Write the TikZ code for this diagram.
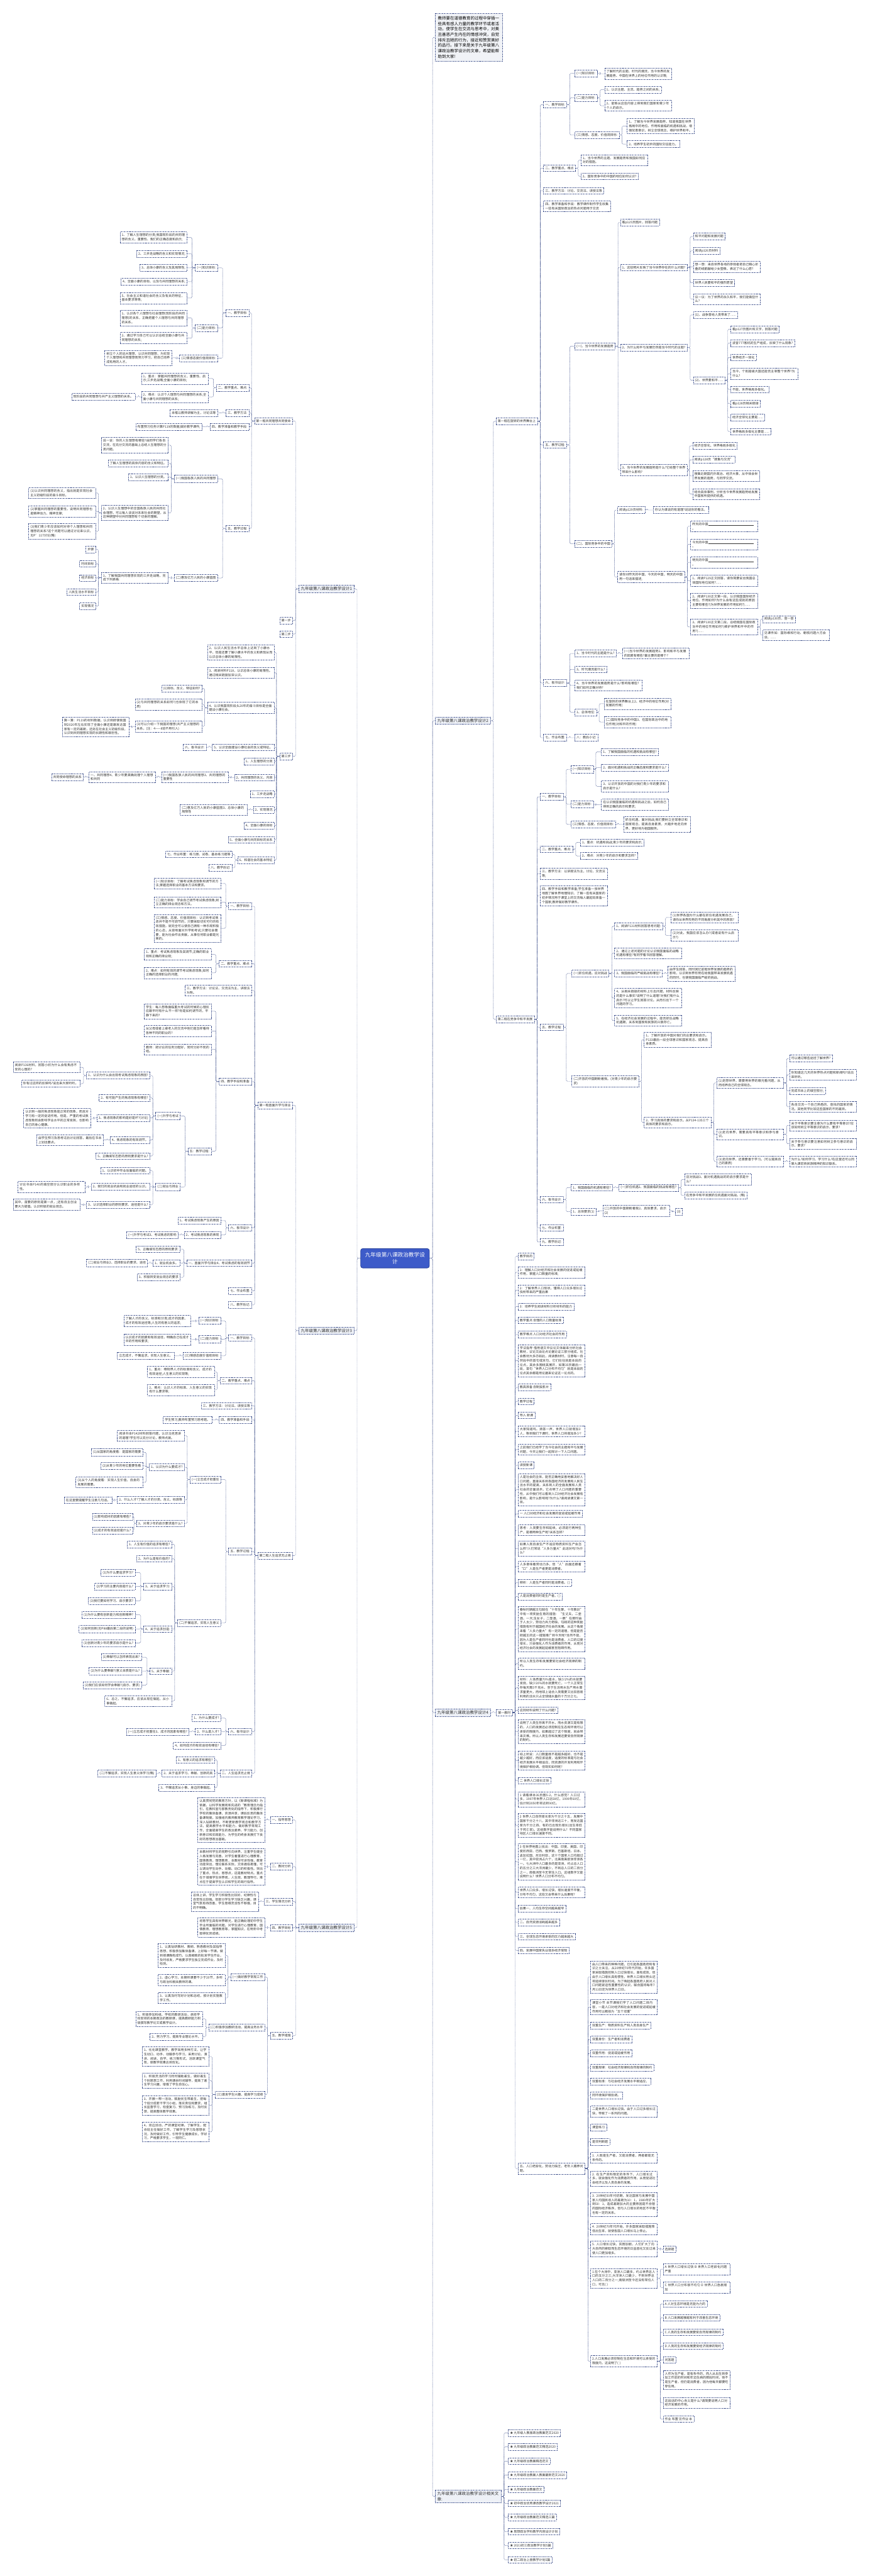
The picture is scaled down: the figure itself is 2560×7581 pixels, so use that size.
\documentclass[tikz,border=0pt]{standalone}
\usepackage{fontspec}
\setmainfont{Noto Sans CJK SC}
\XeTeXlinebreaklocale "zh"
\XeTeXlinebreakskip=0pt plus 1pt
\setlength{\parindent}{0pt}
\definecolor{linec}{HTML}{45568F}
\definecolor{textc}{HTML}{333333}
\definecolor{topicc}{HTML}{EEF1F7}
\definecolor{introc}{HTML}{F1F3F7}
\definecolor{rootc}{HTML}{3D5BC9}
\definecolor{rootd}{HTML}{2A44A0}
\tikzset{
  box/.style={draw=linec, dash pattern=on 3pt off 1.8pt, line width=1pt,
    fill=white, text=textc, font=\fontsize{9.3}{12.5}\selectfont,
    inner xsep=5pt, inner ysep=5.5pt, align=left},
  para/.style={box, text width=187pt},
  rb/.style={box, anchor=west},
  rp/.style={para, anchor=west},
  lb/.style={box, anchor=east},
  lp/.style={para, anchor=east},
  topic/.style={box, fill=topicc, font=\fontsize{12}{16}\selectfont, inner xsep=6pt, inner ysep=5pt},
  intro/.style={box, fill=introc, text=black, font=\fontsize{12}{16.1}\selectfont,
    text width=181pt, inner xsep=9pt, inner ysep=8pt, anchor=west},
  root/.style={draw=rootd, line width=1.5pt, fill=rootc, text=white,
    font=\fontsize{16}{20}\selectfont, align=center, inner xsep=13pt, inner ysep=11pt,
    rounded corners=6pt},
  link/.style={draw=linec, dash pattern=on 2.5pt off 1.6pt, line width=0.9pt, rounded corners=3pt},
}
\begin{document}
\begin{tikzpicture}[x=1pt,y=-1pt]
\fill[white] (0,0) rectangle (2560,7581);
\useasboundingbox (0,0) rectangle (2560,7581);

\node[root] (root) at (1163,3703) {九年级第八课政治教学设\\计};

% ---------------- right side
\node[intro] (intro) at (1280,110) {教师要在道德教育的过程中穿插一些具有感人力量的教学环节或者活动，使学生在交流与思考中，对美丑善恶产生内在的情感冲突，自觉排斥丑陋的行为，接近和赞赏美好的品行。接下来是关于九年级第八课政治教学设计的文章，希望能帮助到大家!};
\node[topic, anchor=west] (b2) at (1281,2121) {九年级第八课政治教学设计2};
\node[topic, anchor=west] (b4) at (1281,5040) {九年级第八课政治教学设计4};
\node[topic, anchor=west, text width=182pt] (rel) at (1281,7347) {九年级第八课政治教学设计相关文章:};

\node[rb] (b2a) at (1460,1240) {第一框在旋转的世界舞台上};
\node[rb] (b2b) at (1460,3000) {第二框在竞争中和平发展};

\node[rb] (a1) at (1600,308) {一、教学目标:};
\node[rb] (a2) at (1600,495) {二、教学重点、难点};
\node[rb] (a3) at (1600,561) {三、教学方法：讨论、交流法、讲授法等};
\node[rp] (a4) at (1600,607) {四、教学准备和手段：教学课件制作学生收集一些有关国际政治的热点问题用于交流};
\node[rb] (a5) at (1600,1309) {五、教学过程:};
\node[rb] (a6) at (1600,2010) {六、板书设计:};
\node[rb] (a7) at (1600,2171) {七、作业布置:};

\node[rb] (a11) at (1692,216) {(一)知识目标:};
\node[rb] (a12) at (1692,288) {(二)能力目标:};
\node[rb] (a13) at (1692,397) {(三)情感、态度、价值观目标:};
\node[rp] (a111) at (1780,217) {了解时代的主题、时代的潮流，当今世界的发展趋势、中国在世界上的地位作用的认识等;};
\node[rb] (a121) at (1780,264) {1、认识主题、主流、趋势之间的关系;};
\node[rp] (a122) at (1780,311) {2、能够从这些内容上得到我们国家和青少年个人的启示。};
\node[rp] (a131) at (1846,371) {1、了解当今世界发展趋势，知道我国在世界格局中的地位、作用和面临的机遇和挑战，增强忧患意识，树立全球观念，维护世界和平。};
\node[rb] (a132) at (1846,424) {2、培养学生初步的国际交往能力。};
\node[rp] (a21) at (1710,471) {1、当今世界的主题、发展趋势和我国如何应对的措施。};
\node[rb] (a22) at (1710,519) {2、国际竞争中的中国的地位如何认识?};

\node[rb] (a51) at (1692,1019) {(一)、当今世界的发展趋势};
\node[rb] (a52) at (1692,1600) {(二)、国际竞争中的中国};
\node[rb] (p1) at (1826,655) {看p125页图片，回答问题};
\node[rp] (p2) at (1826,787) {1、这些照片反映了当今世界存在的什么问题?};
\node[rp] (p3) at (1826,1023) {2、为什么和平与发展仍然是当今时代的主题?};
\node[rp] (p4) at (1826,1383) {3、当今世界的发展趋势是什么?它给整个世界带来什么影响?};
\node[rb] (p21) at (2041,696) {和平问题和发展问题};
\node[rb] (p22) at (2041,738) {阅读p126页材料};
\node[rp] (p23) at (2041,785) {想一想：来自世界各地的参观者把自己精心折叠的纸鹤献给少女塑像，表达了什么心愿?};
\node[rb] (p24) at (2041,832) {世界人民要和平的强烈愿望};
\node[rp] (p25) at (2041,880) {议一议：为了世界的永久和平，我们能做些什么?};
\node[rb] (p31) at (2041,927) {(1)、战争曾给人类带来了......};
\node[rb] (p32) at (2041,1119) {(2)、世界要和平......};
\node[rb] (p321) at (2151,969) {看p127页图片和文字，回答问题};
\node[rb] (p322) at (2151,1010) {波音777客机的生产组成，反映了什么现象?};
\node[rb] (p323) at (2151,1052) {世界经济一体化};
\node[rp] (p324) at (2151,1100) {当今，个别超级大国还能否主宰整个世界?为什么?};
\node[rb] (p325) at (2151,1146) {不能，世界格局多极化。};
\node[rb] (p326) at (2151,1188) {看p128页相关链接};
\node[rb] (p327) at (2151,1229) {经济全球化主要是......};
\node[rb] (p328) at (2151,1270) {世界格局多极化主要是......};
\node[rb] (p41) at (2039,1312) {经济全球化、世界格局多极化};
\node[rb] (p42) at (2039,1353) {阅读p128页“搜集与交流”};
\node[rp] (p43) at (2039,1401) {搜集近期国内外政治、经济大事，从中体会世界发展的趋势，与同学交流。};
\node[rp] (p44) at (2039,1454) {结合具体事例，分析当今世界发展趋势给发展中国家所提供的机遇。};
\node[rb] (q1) at (1818,1501) {阅读p129页材料:};
\node[rp] (q2) at (1818,1698) {请你对昨天的中国，今天的中国，明天的中国用一句话来描述;};
\node[rb] (q11) at (1923,1501) {你认为谁说的有道理?说说你的看法。};
\node[rp] (q21) at (2033,1549) {昨天的中国\rule{135pt}{0.4pt}\\。};
\node[rp] (q22) at (2033,1602) {今天的中国\rule{135pt}{0.4pt}\\。};
\node[rp] (q23) at (2033,1655) {明天的中国\rule{135pt}{0.4pt}\\。};
\node[rp] (q24) at (2033,1709) {1、阅读P129正文回答，请你简要说出我国总体国际地位如何?......};
\node[rp] (q25) at (2033,1768) {2、阅读P130正文第一段，认识我国国际经济地位、作用如何?为什么会有这些成就的原因主要有哪些?(为世界发展的作用如何?)......};
\node[rp] (q26) at (2033,1845) {3、阅读P130正文第二段，总结我国在国际政治中的地位作用如何?(维护世界和平中的作用?)......};
\node[rb] (q261) at (2245,1822) {阅读p130页，查一查};
\node[rp] (q262) at (2245,1869) {见课件如：国际维和行动、朝核问题六方会谈、......};

\node[rb] (s1) at (1692,1923) {1、当今时代的主题是什么?};
\node[rb] (s2) at (1692,1970) {3、时代潮流是什么?};
\node[rp] (s3) at (1692,2017) {4、当今世界的发展趋势是什么?影响有哪些?我们如何正确对待?};
\node[rb] (s4) at (1692,2096) {1、总体地位:};
\node[rp] (s11) at (1832,1923) {(一)当今世界的发展趋势2、影响和平与发展的因素有哪些?最主要的是哪个?};
\node[rp] (s41) at (1778,2071) {在旋转的世界舞台上2、经济中的地位作用(对发展的作用)};
\node[rp] (s42) at (1778,2125) {(二)国际竞争中的中国3、在国际政治中的地位作用(对和平的作用)};
\node[rb] (a71) at (1692,2171) {八：教后小记:};

\node[rb] (t1) at (1590,2345) {一、教学目标:};
\node[rb] (t2) at (1590,2499) {二、教学重点、难点:};
\node[rp] (t3) at (1590,2571) {三、教学方法：以讲授法为主，讨论、交流法等;};
\node[rp] (t4) at (1590,2636) {四、教学手段和教学准备;学生准备一张世界地图了解世界地理知识、了解一些有关国家的初步情况用于课堂上的交流每人最起码准备一个国家;教师做好教学课件。};
\node[rb] (t5) at (1590,3023) {五、教学过程:};
\node[rb] (t6) at (1590,3530) {六、板书设计:};
\node[rb] (t7) at (1590,3613) {七、作业布置:};
\node[rb] (t9) at (1590,3655) {九、教学后记:};
\node[rb] (t11) at (1681,2264) {(一)知识目标:};
\node[rb] (t12) at (1681,2367) {(二)能力目标:};
\node[rb] (t13) at (1681,2426) {(三)情感、态度、价值观目标:};
\node[rb] (t111) at (1770,2213) {1、了解我国面临的机遇和挑战有哪些?};
\node[rp] (t112) at (1770,2259) {2、面对机遇和挑战的正确态度和要求是什么?};
\node[rp] (t113) at (1770,2314) {3、认识开放的中国的对我们青少年的要求和启示是什么?};
\node[rp] (t121) at (1770,2368) {在认识我国面临的机遇和挑战之后，如何自己得到正确的启示和要求;};
\node[rp] (t131) at (1836,2426) {抓住机遇，面对挑战;我们要树立全球意识和国家观念，提高自身素质，大踏步地走向世界，更好地为祖国服务。};
\node[rb] (t21) at (1708,2479) {1、重点：机遇和挑战;青少年的要求和启示;};
\node[rb] (t22) at (1708,2519) {2、难点：对青少年的启示和要求怎样?};

\node[rb] (u1) at (1683,2865) {(一)抓住机遇，应对挑战};
\node[rp] (u2) at (1683,3182) {(二)开放的中国期盼着我。(对青少年的启示要求)};
\node[rb] (u11) at (1809,2726) {1、阅读P131材料回答思考问题:};
\node[rp] (u12) at (1809,2805) {2、通过上述问题的讨论认识我国面临的战略机遇有哪些?有同学看书回答理解。};
\node[rb] (u13) at (1809,2865) {3、我国面临的严峻挑战有哪些?};
\node[rp] (u14) at (1809,2937) {4、从相关链接的材料上引出问题，材料反映的是什么事实?说明了什么道理?对我们有什么启示?可以让学生回答讨论。从而引出下一个问题的学习。};
\node[rp] (u15) at (1809,3003) {5、在经济社会发展的过程中，能否抓住战略机遇期，关系到国家和民族的兴衰存亡。};
\node[rp] (u111) at (1975,2700) {(1)世界各国为什么都在抓住机遇发展自己，请你从世界形势的不同角度分析其中的原因?};
\node[rp] (u112) at (1975,2753) {(2)对此，我国应该怎么办?(或者说有什么启示?)};
\node[rp] (u131) at (1966,2865) {由学生回答，同时回忆前框世界发展的趋势的影响，认识到世界形势在给我国带来发展机遇的同时，也使我国面临严峻的挑战。};
\node[rp] (u21) at (1896,3060) {1、了解开放的中国对我们的总要求和启示。P133最后一段全球意识和国家观念、提高自身素质。};
\node[rp] (u22) at (1896,3303) {2、学习具体的要求和启示。从P134-135三个具体的要求和启示。};
\node[rp] (v1) at (2110,3187) {(1)走想世界，需要用世界的眼光看问题，从而培养自己的全球观念。};
\node[rp] (v2) at (2110,3338) {(2)走向世界，需要具有平等意识和参与意识。};
\node[rp] (v3) at (2110,3418) {(3)走向世界，还需要善于学习。(可以提高自己的素质)};
\node[rb] (v11) at (2324,3115) {可以通过哪些途径了解世界?};
\node[rp] (v12) at (2324,3163) {你知道这几天的世界热点问题和新闻吗?说出来听听。};
\node[rb] (v13) at (2324,3210) {完成书本上的填空部分;};
\node[rp] (v14) at (2324,3257) {各自交流一个自己熟悉的、查找的国家的情况。其他同学比较这些国家的不同差异。};
\node[rp] (v21) at (2324,3312) {关于平等意识要注意为什么要有平等意识?应该如何树立平等意识的启示、要求?};
\node[rp] (v22) at (2324,3366) {关于参与意识要注意如何树立参与意识的启示、要求?};
\node[rp] (v31) at (2324,3418) {为什么?如何学习、学习什么?在这里还可以同第九课宏扬民族精神的知识联系。};

\node[rb] (w1) at (1681,3495) {1、我国面临的机遇有哪些?};
\node[rb] (w2) at (1681,3566) {1、总体要求(1)};
\node[rb] (w11) at (1822,3495) {(一)抓住机遇2、我国面临的挑战有哪些?};
\node[rp] (w111) at (2015,3471) {应对挑战3、面对机遇挑战的的启示要求是什么?};
\node[rb] (w112) at (2015,3518) {在竞争中和平发展抓住机遇面对挑战。(略)};
\node[rp] (w21) at (1774,3563) {(二)开放的中国期盼着我2、具体要求、启示(2)};
\node[rb] (w211) at (1987,3566) {(3)};

\node[rb] (b4a) at (1461,5040) {第一教时};
\node[rb] (n1) at (1525,3697) {教学目的};
\node[rp] (n2) at (1525,3744) {1：理解人口对经济和社会发展的促进或延缓作用，掌握人口数量的标准;};
\node[rp] (n3) at (1525,3797) {2：了解世界人口现状，懂得人口众多增长过快所带来的严重后果};
\node[rb] (n4) at (1525,3845) {3：培养学生阅读材料分析材料的能力};
\node[rb] (n5) at (1525,3885) {教学重点 合理的人口数量标准};
\node[rb] (n6) at (1525,3927) {教学难点 人口对经济社会的作用};
\node[rp] (n7) at (1525,4004) {学法指导 借用语文中议论文体裁来分析社会教材，议论文由论点论据论证三部分组成，社会教材大多亦如此，阅读教材时，注意每一自然段中的首句或末句，它们往往就是本段的论点，其余多围绕其展开，如第35页最后一段，首句“世界人口分布不均匀”就是本段的论点其余都是用论据来论证这一论点的。};
\node[rb] (n8) at (1525,4083) {教具准备 自制投影片};
\node[rb] (n9) at (1525,4124) {教学过程};
\node[rb] (n10) at (1525,4165) {导入 新课};
\node[rp] (n11) at (1525,4212) {大家知道吗，滴答一声，世界人口就增加3人，等到我们下课时，世界人口将增加多少?};
\node[rp] (n12) at (1525,4266) {之前我们已经学了当今社会的主题和平与发展问题，今天让我们一起探讨一下人口问题。};
\node[rb] (n13) at (1525,4312) {讲授新课};
\node[rp] (n14) at (1525,4384) {人是社会的主体，能否正确地妥善地解决好人口问题，直接关系到各国经济的发展和人民生活水平的提高，关系到人的全面发展和人类社会的全面进步。它点明了人口问题的重要性，从中我们可以看到人口对经济社会发展有影响，是什么影响呢?为什么?请阅读课文第一目。};
\node[rb] (n15) at (1525,4455) {一 人口对经济和社会发展的促进或延缓作用};
\node[rp] (n16) at (1525,4503) {思考：人类要生存和延续，必须进行两种生产，是哪两种生产呢?关系怎样?};
\node[rp] (n17) at (1525,4557) {如果人类自身生产不适应物质资料生产会怎么样?人们常说“人多力量大”此话对吗?为什么?};
\node[rp] (n18) at (1525,4610) {人多意味着劳动力多，但“人”后面还跟着“口”人是生产者更是消费者。};
\node[rb] (n19) at (1525,4658) {辨析：人是生产者同时是消费者。( )};
\node[rb] (n20) at (1525,4698) {人是消费者同时是生产者。( )};
\node[rp] (n21) at (1525,4794) {春秋时期越王勾践在“十年生聚，十年教训”中有一项奖励生育的措施：“生丈夫，二壶酒，一犬;生女子，二壶酒，一豚”在那时由于人太少，劳动力兵力奇缺，勾践的这种奖励措施有利于越国经济社会的发展。从这个角度来看“人多力量大”有一定的道理，但是能否把越王的这一措施推广到今天呢?当然不能，因为人是生产者同时也是消费者，人口的过度增长，只会强化人作为消费者的作用，从而对经济社会的发展起延缓甚至阻碍作用。};
\node[rp] (n22) at (1525,4896) {所以人类生存和发展要受社会经济规律的制约。};
\node[rp] (n23) at (1525,4967) {材料：人体质量70\%是水，缺少2\%的水就要发烧，缺少20\%的水就要死亡，一个人正常生存每天需5千克水，至于生活用水生产用水需求量更大，而地球上适合人类需要又比较容易利用的淡水只占全球储水量的十万分之七。};
\node[rb] (n24) at (1525,5033) {这则材料说明了什么问题?};
\node[rp] (n25) at (1525,5096) {说明了人类生存离不开水，而水资源又是有限的，人口的发展还必须控制在生态和环境可以承受的限度内，如果超过了这个限度，就会带来灾难。所以人类生存和发展还要受自然规律的制约。};
\node[rp] (n26) at (1525,5181) {综上所说：人口数量既不是越多越好，也不是越少越好，而应该适度，适度的标准是与社会经济发展水平相适应，同资源的开发利用和环境保护相协调。但现实如何呢?};
\node[rb] (n27) at (1525,5240) {二 世界人口增长过快};
\node[rp] (n28) at (1525,5295) {1 请看课本36页图5-2，什么感觉? 人口过多，1997年世界人口达58亿，1999年60亿，估计到2050年将达到90亿。};
\node[rp] (n29) at (1525,5372) {2 世界人口自然增长率为千分之十五，发展中国家千分之十八，其中非洲达三十，而发达国家为千分之四，有的已出现负增长(出生率低于死亡率)。这组数字能说明什么? 不同国家地区人口增长速度不同。};
\node[rp] (n30) at (1525,5479) {3 在世界地图上找出：中国、印度、美国、印度尼西亚、巴西、俄罗斯、巴基斯坦、日本、孟加拉国、尼日利亚，这十个国家人口均超过一亿，其中亚洲占六个，北美南美欧洲非洲各一。七大洲中人口最多的是亚洲，约占总人口的五分之三大洋洲最少，不到总人口的二百分之一，南极洲至今无常住人口。这组数字又能说明什么? 世界人口分布不均匀。};
\node[rp] (n31) at (1525,5569) {世界人口众多，增长过快，增长速度不平衡，分布不均匀，这些又会带来什么后果呢?};
\node[rb] (n32) at (1525,5617) {后果一、人均生存空间越来越窄};
\node[rb] (n33) at (1525,5657) {二、自然资源消耗越来越多};
\node[rb] (n34) at (1525,5699) {三、全球生态环境承受的压力越来越大};
\node[rb] (n35) at (1525,5740) {四、发展中国家失业增多经济受阻};
\node[rp] (n36) at (1525,6382) {五、人口老龄化，劳动力缺乏，老年人赡养问题。};

\node[rp] (o1) at (1738,5818) {由人口带来的种种问题，已引起各国政府和有识之士关注，从20世纪70年代开始，许多国家采取措施控制人口过快增长，虽有成效，但由于人口增长具有惯性，世界人口增长势头还将延续很长时间。为了唤起各国政府人民对人口问题紧迫性重要性的认识，联合国将每年7月11日定为世界人口日。};
\node[rp] (o2) at (1738,5907) {课堂小节 本节课我们学了人口问题二目内容，一是人口对经济和社会发展的促进或延缓作用可以概括为“五个双重”};
\node[rb] (o3) at (1738,5961) {双重生产：物质资料生产和人类自身生产};
\node[rb] (o4) at (1738,6002) {双重身份：生产者和消费者};
\node[rb] (o5) at (1738,6043) {双重作用：促进或延缓作用};
\node[rb] (o6) at (1738,6085) {双重规律：社会经济规律和自然规律的制约};
\node[rb] (o7) at (1738,6126) {双重标准：与社会经济发展水平相适应，};
\node[rb] (o8) at (1738,6167) {同环境保护相协调。};
\node[rp] (o9) at (1738,6214) {二是世界人口增长过快。由于人口过多增长过快，导致了一系列的问题。};
\node[rb] (o10) at (1738,6261) {课堂练习};
\node[rb] (o11) at (1738,6303) {是非判断题};
\node[rp] (o12) at (1738,6350) {1. 人既是生产者，又是消费者，两者都是无条件的。};
\node[rp] (o13) at (1738,6411) {2. 在生产资料限定的条件下，人口增长过多，就会强化作为消费者的作用，从而促进社会经济以及人类自身的发展。};
\node[rp] (o14) at (1738,6487) {3. 20世纪50年代初期，发达国家与发展中国家人均国民收入的差距为10：1，1989年扩大到50：1，造成差距加大的主要原因是不合理的国际经济秩序，但与人口增长的地区不平衡也有一定的关系。};
\node[rp] (o15) at (1738,6560) {4. 20世纪70年代开始，许多国家采取措施降低出生率，就使各国人口增长马上停止。};
\node[rp] (o16) at (1738,6618) {5. 人口增长过快，贫困加剧，人们扩大了向大自然的索取而生态环境的日益恶化又反过来使人口更加增多。};
\node[rp] (o17) at (1738,6705) {1.在个大洲中，亚洲人口最多，约占世界总人口的五分之三;大洋洲人口最少，不到世界总人口的二百分之一;南极洲至今还没有常住人口，可见( )};
\node[rp] (o18) at (1738,6949) {2.人口发展必须控制在生态和环境可以承受的限度内，这说明了( )};
\node[rb] (o161) at (1952,6619) {选择题};
\node[rp] (o171) at (1952,6678) {A 世界人口增长过快 B 世界人口老龄化问题严重};
\node[rp] (o172) at (1952,6732) {C 世界人口分布很不均匀 D 世界人口急剧增加};
\node[rb] (o181) at (1952,6780) {A 人对生态环境是无能为力的};
\node[rb] (o182) at (1952,6821) {B 人口发展越慢越有利于改善生态环境};
\node[rb] (o183) at (1952,6863) {C 人类的生存和发展要受自然规律的制约};
\node[rb] (o184) at (1952,6904) {D 人类的生存和发展要受经济规律的制约};
\node[rb] (o185) at (1952,6945) {问答题};
\node[rp] (o186) at (1952,7004) {人作为生产者，是有条件的，而人从出生到参加工作前的时间和年迈生病的那段时间，他不是生产者，但仍是消费者，因为他每天都要吃穿住用。};
\node[rp] (o187) at (1952,7071) {这段话的中心含义是什么?请简要说明人口对经济发展的作用。};
\node[rb] (o188) at (1952,7119) {作业 布置 见作业 本};

\node[rb] (r1) at (1496,7160) {★ 九年级人教版政治教案范文2020};
\node[rb] (r2) at (1496,7201) {★ 九年级政治教案范文精选2020};
\node[rb] (r3) at (1496,7243) {★ 九年级政治教案精选范文};
\node[rb] (r4) at (1496,7284) {★ 九年级政治教案人教案最新范文2020};
\node[rb] (r5) at (1496,7326) {★ 九年级政治教案范文};
\node[rb] (r6) at (1496,7367) {★ 初中政治优秀课改教学设计2021};
\node[rb] (r7) at (1496,7408) {★ 九年级政治教案范文精选三篇};
\node[rb] (r8) at (1496,7450) {★ 思想政治学科教学内容设计计划};
\node[rb] (r9) at (1496,7491) {★ 2021初三政治教学计划5篇};
\node[rb] (r10) at (1496,7533) {★ 初二政治上册教学计划5篇};

% ---------------- left side
\node[topic, anchor=east] (b1) at (1043,1733) {九年级第八课政治教学设计1};
\node[topic, anchor=east] (b3) at (1043,3916) {九年级第八课政治教学设计3};
\node[topic, anchor=east] (b5) at (1043,5673) {九年级第八课政治教学设计5};

\node[lb] (b1a) at (862,1239) {第一框共同理想共同使命};
\node[lb] (b1b) at (862,1826) {第一步};
\node[lb] (b1c) at (862,1866) {第二步};
\node[lb] (b1d) at (862,2226) {第三步};
\node[lb] (c1) at (734,921) {一、教学目标:};
\node[lb] (c2) at (734,1141) {二、教学重点、难点:};
\node[lb] (c3) at (734,1215) {三、教学方法:};
\node[lb] (c4) at (734,1256) {四、教学准备和教学手段:};
\node[lb] (c5) at (734,1555) {五、教学过程:};
\node[lb] (c11) at (641,788) {(一)知识目标:};
\node[lb] (c12) at (641,965) {(二)能力目标:};
\node[lb] (c13) at (641,1054) {(三)情感态度价值观目标:};
\node[lp] (c111) at (551,699) {1、了解人生理想的分类;我国现阶段的共同理想的含义、重要性、我们的正确态度和启示;};
\node[lb] (c112) at (551,747) {2、三步走战略的含义和实现情况;};
\node[lb] (c113) at (551,788) {3、总体小康的含义及其局限性;};
\node[lb] (c114) at (551,829) {4、全面小康的目标、以及与共同理想的关系;};
\node[lp] (c115) at (551,877) {5、社会主义和谐社会的含义及有关的特征，基本要求等等;};
\node[lp] (c121) at (551,936) {1、认识各个人理想与社会理想(现阶段的共同理想)的关系，正确把握个人理想与共同理想的关系。};
\node[lp] (c122) at (551,995) {2、通过学习自己可以认识总结全面小康与共同理想的关系;};
\node[lp] (c131) at (506,1053) {树立个人的远大理想，认识共同理想，为实现个人理想和共同理想而努力学习，把自己培养成有用的人才。};
\node[lp] (c21) at (614,1114) {1、重点：掌握共同理想的含义、重要性、启示;三步走战略;全面小康的目标;};
\node[lp] (c22) at (614,1168) {2、难点：认识个人理想与共同理想的关系;全面小康与共同理想的关系;};
\node[lb] (c221) at (398,1168) {现阶段的共同理想与共产主义理想的关系。};
\node[lb] (c31) at (641,1215) {本框以教师讲解为主，讨论法等};
\node[lb] (c41) at (595,1256) {布置预习任务计算P119的数据;做好教学课件;};
\node[lb] (c51) at (641,1409) {(一)我国各族人民的共同理想};
\node[lb] (c52) at (641,1701) {(二)惠及亿万人民的小康蓝图};
\node[lp] (c511) at (496,1310) {说一说：你的人生理想有哪些?由同学们各自交流，在充分交流的基础上总结人生理想的分类问题。};
\node[lb] (c512) at (496,1364) {了解人生理想的具体内容的含义和特征。};
\node[lb] (c513) at (496,1404) {1、认识人生理想的分类。};
\node[lp] (c514) at (496,1509) {2、认识人生理想中的全国各族人民的共同社会理想，可以每人谈谈对未来社会的期望，从这种期望中对共同理想有个切身的理解。};
\node[lp] (c5141) at (282,1451) {(1)认识共同理想的含义，指出就是实现社会主义初级阶段的奋斗目标。};
\node[lp] (c5142) at (282,1505) {(2)掌握共同理想的重要性，说明共同理想也是精神动力、精神支撑;};
\node[lp] (c5143) at (282,1564) {(3)我们青少年应该如何对待个人理想和共同理想的关系?这个问题可以通过讨论来认识，见P'117讨论(略)};
\node[lp] (c521) at (496,1700) {1、了解我国共同理想实现的三步走战略，完成下列表格:};
\node[lb] (c5211) at (282,1617) {步骤};
\node[lb] (c5212) at (282,1659) {时间目标};
\node[lb] (c5213) at (282,1701) {经济目标};
\node[lb] (c5214) at (282,1742) {人民生活水平目标};
\node[lb] (c5215) at (282,1784) {实现情况};

\node[lp] (d1) at (808,1920) {2、认识人民生活水平总体上达到了小康水平，但是还要了解小康水平的含义和表现从而认识总体小康的局限性。};
\node[lp] (d2) at (808,1980) {3、阅读材料P118，认识总体小康的局限性。通过相关链接加深认识。};
\node[lp] (d3) at (808,2083) {4、认识我国现阶段头20年的奋斗目标是全面建设小康社会。};
\node[lb] (d4) at (808,2199) {5、认识全面建设小康社会的含义或特征。};
\node[lb] (d5) at (808,2241) {1、人生理想的分类};
\node[lb] (d6) at (808,2288) {2、共同理想的含义、内容};
\node[lb] (d7) at (808,2337) {1、三步走战略};
\node[lb] (d8) at (808,2383) {2、实现情况};
\node[lb] (d9) at (808,2430) {4、全面小康的目标};
\node[lb] (d10) at (808,2471) {5、全面小康与共同目标的关系};
\node[lb] (d11) at (808,2531) {6、和谐社会的基本特征};
\node[lb] (d31) at (595,2026) {(1)目标、含义、特征如何?};
\node[lp] (d32) at (595,2073) {(2)与共同理想的关系如何?(也体现了它的本质)};
\node[lp] (d33) at (595,2138) {(3)可以介绍一下我国的理想(共产主义理想的关系。(注：4——8班不用引入)};
\node[lp] (d331) at (381,2139) {算一算：P119的材料数据，认识到即使我国到2020年左右实现了全面小康还是跟发达国家有一定的差距，还处在社会主义初级阶段，认识到共同理想实现的长期性和艰巨性。};
\node[lb] (d41) at (608,2199) {六、板书设计:};
\node[lp] (d61) at (673,2287) {(一)我国各族人民的共同理想3、共同理想的重要性};
\node[lp] (d611) at (459,2287) {一、共同理想4、青少年要真确处理个人理想和共同};
\node[lb] (d6111) at (246,2287) {共同使命理想的关系};
\node[lp] (d81) at (728,2383) {(二)惠及亿万人民的小康蓝图3、总体小康的局限性};
\node[lb] (d111) at (684,2514) {七、作业布置：练习册、试卷、基本练习题等};
\node[lb] (d112) at (684,2554) {八、教学后记:};

\node[lb] (e1) at (862,3253) {第一框直面升学与择业};
\node[lb] (e2) at (862,4578) {第二框人生追求无止境};
\node[lb] (f1) at (742,2667) {一、教学目标:};
\node[lb] (f2) at (742,2836) {二、教学重点、难点:};
\node[lp] (f3) at (742,2915) {三、教学方法：讨论法、交流法为主，讲授法为附。};
\node[lb] (f4) at (742,3183) {四、教学手段和准备:};
\node[lb] (f6) at (742,3613) {六、板书设计:};
\node[lb] (f7) at (742,3717) {一、直面升学与择业4、考试焦虑的有效调节};
\node[lb] (f8) at (742,3799) {七、作业布置:};
\node[lb] (f9) at (742,3840) {八、教学后记:};
\node[lp] (f11) at (651,2600) {(一)知识目标：了解考试焦虑现象和调节的方法;掌握选择职业的基本方法和要求。};
\node[lp] (f12) at (651,2655) {(二)能力目标：学会自己调节考试焦虑现象;树立正确的择业观念和方法。};
\node[lp] (f13) at (651,2732) {(三)情感、态度、价值观目标：认识到考试焦虑并不是不可调节的，只要采取切实可行的有效措施，就完全可以使自己拥有一种乐观积极的心态，从容地面对升学和考试;只要社会需要，能为社会作出贡献，从事任何职业都是光荣的。};
\node[lp] (f21) at (622,2809) {1、重点：考试焦虑现象及其调节;正确的职业观和正确的择业观;};
\node[lp] (f22) at (622,2863) {2、难点：如何有效的调节考试焦虑现象;如何正确的选择职业的问题;};
\node[lp] (f41) at (622,2976) {学生：每人想象面临重大考试的时候的心理反应跟平时有什么不一样?你是如何调节的，平静下来的?};
\node[lp] (f42) at (622,3034) {从父母或者上辈老人的交流中他们是怎样看待各种不同的职业的?};
\node[lp] (f43) at (622,3088) {教师：把讨论的任务分配好，同时分好不同的组。};
\node[lb] (f44) at (622,3388) {五：教学过程:};
\node[lb] (g1) at (531,3284) {(一)升学与考试};
\node[lb] (g2) at (531,3493) {(二)就业与择业};
\node[lb] (g11) at (442,3165) {1、认识为什么会出现考试焦虑现象的原因?};
\node[lb] (g12) at (442,3231) {2、有可能产生的焦虑现象有哪些?};
\node[lb] (g13) at (442,3290) {3、焦虑现象的影响是好是坏?(讨论)};
\node[lb] (g14) at (442,3355) {4、焦虑现象的有效调节。};
\node[lb] (g15) at (442,3402) {5、正确填写志愿的原则要求是什么?};
\node[lp] (g111) at (236,3141) {阅读P136材料，回答小欣为什么会有焦虑不安的心理的?};
\node[lb] (g112) at (236,3189) {你有过这样的反映吗?说出来大家听听。};
\node[lp] (g131) at (267,3291) {认识到一般的焦虑现象是正常的现象，而且对学习有一定的促进作用。但是，严重的考试焦虑现象则会影响学业水平的正常发挥，也影响自己的身心健康。};
\node[lp] (g141) at (305,3355) {由学生预习及思考过后讨论回答，最后在书本上划出要点。};
\node[lb] (g21) at (442,3445) {1、认识初中毕业后面临的问题。};
\node[lb] (g22) at (442,3492) {2、我们的就业机会和就业途径的认识。};
\node[lb] (g23) at (442,3546) {3、认识选择职业的原则要求、途径是什么?};
\node[lp] (g221) at (250,3493) {讨论书本P140的填空部分认识职业的多样性。};
\node[lp] (g231) at (236,3545) {其中，首要的原则是第一点，;还有自主创业要大力提倡。认识积极的就业观念。};
\node[lb] (f61) at (651,3592) {1、考试焦虑现象产生的原因};
\node[lb] (f62) at (651,3634) {2、考试焦虑现象的表现};
\node[lb] (f621) at (525,3634) {(一)升学与考试3、考试焦虑的影响};
\node[lb] (f71) at (531,3676) {5、正确填写志愿的原则要求:};
\node[lb] (f72) at (531,3717) {1、就业机会多。};
\node[lb] (f73) at (531,3759) {3、积极转变就业观念的要求};
\node[lb] (f721) at (435,3717) {(二)就业与择业2、选择职业的要求、途径};

\node[lb] (h1) at (742,3937) {一、教学目标:};
\node[lb] (h2) at (742,4063) {二、教学重点、难点};
\node[lb] (h3) at (742,4137) {三、教学方法：讨论法、讲授法等};
\node[lb] (h4) at (742,4179) {四、教学准备和手段:};
\node[lb] (h5) at (742,4566) {五、教学过程:};
\node[lb] (h6) at (742,5096) {六、板书设计:};
\node[lb] (h7) at (742,5219) {二、人生追求无止境};
\node[lb] (h11) at (651,3887) {(一)知识目标:};
\node[lb] (h12) at (651,3941) {(二)能力目标:};
\node[lb] (h13) at (651,3990) {(三)情感态度价值观目标:};
\node[lp] (h111) at (562,3888) {了解人才的含义、标准和分类;成才的因素、成才的有效途径等;人生的有意义的追求;};
\node[lp] (h121) at (562,3942) {认识成才的因素和有效途径，明确自己在成才中的作用和要求;};
\node[lb] (h131) at (514,3990) {立志成才，不懈追求，实现人生意义。};
\node[lp] (h21) at (632,4037) {1、重点：唯物界人才的标准和含义、成才的有效途径;人生意义的实现等;};
\node[lp] (h22) at (632,4090) {2、难点：认识人才的标准、人生意义的实现有什么要求等;};
\node[lb] (h41) at (624,4179) {学生预习;教师布置预习思考题。};
\node[lb] (i1) at (651,4354) {(一)立志成才担重任};
\node[lb] (i2) at (651,4776) {(二)不懈追求，实现人生意义};
\node[lp] (i11) at (543,4225) {阅读书本P142材料回答问题，认识马克思讲的道理?学生可以充分讨论，教师点拨。};
\node[lb] (i12) at (543,4318) {1、认识为什么要成才?};
\node[lp] (i13) at (543,4414) {2、什么人才?了解人才的分类、含义、标准等};
\node[lb] (i14) at (543,4483) {3、对青少年的启示要求是什么?};
\node[lb] (i121) at (421,4274) {(1)从国家的角度看：是国家的需要};
\node[lb] (i122) at (421,4314) {(2)从青少年的地位重要性看};
\node[lp] (i123) at (421,4362) {(3)从个人的角度看：实现人生价值，自身的发展的需要。};
\node[lb] (i131) at (330,4415) {在这里要提醒学生注意几句话。};
\node[lb] (i141) at (391,4463) {(1)影响成材的因素有哪些?};
\node[lb] (i142) at (391,4504) {(2)成才的有效途径是什么?};
\node[lb] (i21) at (506,4545) {1、人生有价值的追求有哪些?};
\node[lb] (i22) at (506,4587) {2、为什么是有价值的?};
\node[lb] (i23) at (506,4669) {3、关于追求学习:};
\node[lb] (i24) at (506,4794) {4、关于追求创造:};
\node[lb] (i25) at (506,4918) {5、关于奉献:};
\node[lp] (i26) at (506,5006) {6、总之，不懈追求，应该从现在做起，从小事做起。};
\node[lb] (i231) at (398,4628) {(1)为什么要追求学习?};
\node[lb] (i232) at (398,4669) {(2)学习的主要内容是什么?};
\node[lb] (i233) at (398,4711) {(3)我们要如何学习、启示要求?};
\node[lb] (i241) at (398,4752) {(1)为什么要有创新能力和创新精神?};
\node[lb] (i242) at (398,4794) {(2)如何创新(见P88最后第二段的说明)};
\node[lb] (i243) at (398,4835) {(3)创新对青少年的要求启示是什么?};
\node[lb] (i251) at (417,4877) {(1)奉献可以怎样表现出来?};
\node[lb] (i252) at (417,4918) {(2)为什么要奉献?(意义本质是什么?};
\node[lb] (i253) at (417,4959) {(3)我们应该如何学会奉献?(启示、要求)};
\node[lb] (h61) at (651,5056) {1、为什么要成才?};
\node[lb] (h62) at (651,5096) {2、什么是人才?};
\node[lb] (h63) at (651,5137) {4、如何成才的有效途径有哪些?};
\node[lb] (h621) at (557,5096) {(一)立志成才担重任3、成才的因素有哪些?};
\node[lb] (h71) at (632,5179) {1、有意义的追求有哪些?};
\node[lb] (h72) at (632,5219) {2、关于追求学习、奉献、创新的具};
\node[lb] (h73) at (632,5261) {3、不懈追求从小事、身边的事做起。};
\node[lb] (h721) at (460,5219) {(二)不懈追求，实现人生意义体学习(略)};

\node[lb] (k1) at (862,5356) {一、指导思想};
\node[lb] (k2) at (862,5493) {二、教材分析};
\node[lb] (k3) at (862,5596) {三、学生情况分析};
\node[lb] (k4) at (862,5673) {四、教学目标};
\node[lb] (k5) at (862,5991) {五、教学措施};
\node[lp] (k11) at (780,5356) {认真贯彻党的教育方针，以《新课程标准》为依据，以科学发展观和先进的“教育理念为指引，在教科室与部教务处的指导下，积极推行学校的集体备课，资源共享，课后反思的集体备课制度。加强组内教师教育教学理论学习，深入钻研教材，不断更新教学观念和教学方法，提高教学水平和能力，做好教学常规工作，全面提高学生的政治素养、学习能力、创新意识和实践能力，为学生的终身发展打下良好的思想政治基础。};
\node[lp] (k21) at (780,5494) {本教材将学生的视野引向世界，注重学生健全人格发展与完善，对学生着重进行心理教育、国情教育，理想教育，本教材可读性强，教育功能突出，理论联系实际，文体通俗易懂，可以调动学生动手、动脑、动口的积极性。突出了重点，热点，思想点，这是教材特点。重点在于增强学生世界观，人生观，教理导行。难点在于提高学生认识和学生的践行指导。};
\node[lp] (k31) at (761,5596) {总体上讲，学生学习积极性比较好，纪律性与自觉性比较强。但部分学生学习缺乏兴趣，课堂气氛有待改善，学生思维灵活性不够强，目的不明确。};
\node[lp] (k41) at (780,5672) {培育学生具有世界眼光，能正确处理初中学生毕业所面临的问题。对学生进行心理教育、国情教育，理想教育等，掌握知识，在明年中考取得优异成绩。};
\node[lb] (m1) at (780,5818) {(一)做好教学常规工作};
\node[lb] (m2) at (780,5967) {(二)积极参加教研活动，提高业务水平};
\node[lb] (m3) at (780,6164) {(三)激发学生兴趣，提高学习成绩};
\node[lp] (m11) at (663,5755) {1、认真钻研教材、教纲，熟悉教材及其指导思想，积极参加集体备课，上好每一节课。做到授课胸有成竹。认真细致的批发学生作业，及时收发，严格要求学生独立完成作业，及时检测。};
\node[lp] (m12) at (663,5827) {2、虚心学习，本期听课要不少于20节，多听与政治科相关教师的课。};
\node[lp] (m13) at (663,5880) {3、认真及时写好计划和总结，按计划实施教学工作。};
\node[lp] (m21) at (597,5941) {1、积极参加科组、学校的教研活动，承担学校安排的本期政治的教研课，提高教研能力积极撰写教学论文或教学设计。};
\node[lb] (m22) at (597,5994) {2、努力学习，提高专业理论水平。};
\node[lp] (m31) at (616,6052) {1、化化课堂教学。教学采用多种方法，让学生动口、动手、动脑参与学习，采用讨论、演讲、阅读、自学、练习等形式，活跃课堂气氛，使教学效果达到优化。};
\node[lp] (m32) at (616,6123) {2、积极灵活的学习同时辅助差生，做好差生个别思想工作，利用课余时间辅导，提高了差生学习兴趣，增强了学生自信心。};
\node[lp] (m33) at (616,6196) {3、开展一帮一活动，鼓励优生带差生，把每个班分成若干学习小组，落实责任和要求，组长监督学习，检查复习、预习及练习，及时反馈，提高整体教学效果。};
\node[lp] (m34) at (616,6274) {4、双边活动，严抓课堂纪律。了解学生，配合班主任做好工作，了解学生学习及思想状况，及时做好工作，引导学生健康成长，学好习，严格要求学生，一视同仁。};

% ---------------- connectors, right side
\begin{scope}[on background layer/.try]
\foreach \c in {intro,b2,b4,rel} \draw[link] (root.east) -- ++(9,0) |- (\c.west);
\foreach \c in {b2a,b2b} \draw[link] (b2.east) -- ++(8,0) |- (\c.west);
\foreach \c in {a1,a2,a3,a4,a5,a6,a7} \draw[link] (b2a.east) -- ++(8,0) |- (\c.west);
\foreach \c in {a11,a12,a13} \draw[link] (a1.east) -- ++(8,0) |- (\c.west);
\foreach \c in {a111} \draw[link] (a11.east) -- ++(8,0) |- (\c.west);
\foreach \c in {a121,a122} \draw[link] (a12.east) -- ++(8,0) |- (\c.west);
\foreach \c in {a131,a132} \draw[link] (a13.east) -- ++(8,0) |- (\c.west);
\foreach \c in {a21,a22} \draw[link] (a2.east) -- ++(8,0) |- (\c.west);
\foreach \c in {a51,a52} \draw[link] (a5.east) -- ++(8,0) |- (\c.west);
\foreach \c in {p1,p2,p3,p4} \draw[link] (a51.east) -- ++(8,0) |- (\c.west);
\foreach \c in {p21,p22,p23,p24,p25} \draw[link] (p2.east) -- ++(8,0) |- (\c.west);
\foreach \c in {p31,p32} \draw[link] (p3.east) -- ++(8,0) |- (\c.west);
\foreach \c in {p321,p322,p323,p324,p325,p326,p327,p328} \draw[link] (p32.east) -- ++(8,0) |- (\c.west);
\foreach \c in {p41,p42,p43,p44} \draw[link] (p4.east) -- ++(6,0) |- (\c.west);
\foreach \c in {q1,q2} \draw[link] (a52.east) -- ++(7,0) |- (\c.west);
\foreach \c in {q11} \draw[link] (q1.east) -- ++(6,0) |- (\c.west);
\foreach \c in {q21,q22,q23,q24,q25,q26} \draw[link] (q2.east) -- ++(8,0) |- (\c.west);
\foreach \c in {q261,q262} \draw[link] (q26.east) -- ++(8,0) |- (\c.west);
\foreach \c in {s1,s2,s3,s4} \draw[link] (a6.east) -- ++(8,0) |- (\c.west);
\foreach \c in {s11} \draw[link] (s1.east) -- ++(8,0) |- (\c.west);
\foreach \c in {s41,s42} \draw[link] (s4.east) -- ++(7,0) |- (\c.west);
\foreach \c in {a71} \draw[link] (a7.east) -- ++(8,0) |- (\c.west);
\foreach \c in {t1,t2,t3,t4,t5,t6,t7,t9} \draw[link] (b2b.east) -- ++(8,0) |- (\c.west);
\foreach \c in {t11,t12,t13} \draw[link] (t1.east) -- ++(8,0) |- (\c.west);
\foreach \c in {t111,t112,t113} \draw[link] (t11.east) -- ++(7,0) |- (\c.west);
\foreach \c in {t121} \draw[link] (t12.east) -- ++(7,0) |- (\c.west);
\foreach \c in {t131} \draw[link] (t13.east) -- ++(7,0) |- (\c.west);
\foreach \c in {t21,t22} \draw[link] (t2.east) -- ++(8,0) |- (\c.west);
\foreach \c in {u1,u2} \draw[link] (t5.east) -- ++(8,0) |- (\c.west);
\foreach \c in {u11,u12,u13,u14,u15} \draw[link] (u1.east) -- ++(8,0) |- (\c.west);
\foreach \c in {u111,u112} \draw[link] (u11.east) -- ++(8,0) |- (\c.west);
\foreach \c in {u131} \draw[link] (u13.east) -- ++(8,0) |- (\c.west);
\foreach \c in {u21,u22} \draw[link] (u2.east) -- ++(8,0) |- (\c.west);
\foreach \c in {v1,v2,v3} \draw[link] (u22.east) -- ++(8,0) |- (\c.west);
\foreach \c in {v11,v12,v13,v14} \draw[link] (v1.east) -- ++(8,0) |- (\c.west);
\foreach \c in {v21,v22} \draw[link] (v2.east) -- ++(8,0) |- (\c.west);
\foreach \c in {v31} \draw[link] (v3.east) -- ++(8,0) |- (\c.west);
\foreach \c in {w1,w2} \draw[link] (t6.east) -- ++(8,0) |- (\c.west);
\foreach \c in {w11} \draw[link] (w1.east) -- ++(8,0) |- (\c.west);
\foreach \c in {w111,w112} \draw[link] (w11.east) -- ++(8,0) |- (\c.west);
\foreach \c in {w21} \draw[link] (w2.east) -- ++(8,0) |- (\c.west);
\foreach \c in {w211} \draw[link] (w21.east) -- ++(8,0) |- (\c.west);
\foreach \c in {b4a} \draw[link] (b4.east) -- ++(8,0) |- (\c.west);
\foreach \i in {1,...,36} \draw[link] (b4a.east) -- ++(8,0) |- (n\i.west);
\foreach \i in {1,...,18} \draw[link] (n36.east) -- ++(8,0) |- (o\i.west);
\foreach \c in {o161} \draw[link] (o16.east) -- ++(8,0) |- (\c.west);
\foreach \c in {o171,o172} \draw[link] (o17.east) -- ++(8,0) |- (\c.west);
\foreach \c in {o181,o182,o183,o184,o185,o186,o187,o188} \draw[link] (o18.east) -- ++(8,0) |- (\c.west);
\foreach \i in {1,...,10} \draw[link] (rel.east) -- ++(8,0) |- (r\i.west);

% ---------------- connectors, left side
\foreach \c in {b1,b3,b5} \draw[link] (root.west) -- ++(-10,0) |- (\c.east);
\foreach \c in {b1a,b1b,b1c,b1d} \draw[link] (b1.west) -- ++(-9,0) |- (\c.east);
\foreach \c in {c1,c2,c3,c4,c5} \draw[link] (b1a.west) -- ++(-8,0) |- (\c.east);
\foreach \c in {c11,c12,c13} \draw[link] (c1.west) -- ++(-9,0) |- (\c.east);
\foreach \c in {c111,c112,c113,c114,c115} \draw[link] (c11.west) -- ++(-9,0) |- (\c.east);
\foreach \c in {c121,c122} \draw[link] (c12.west) -- ++(-9,0) |- (\c.east);
\foreach \c in {c131} \draw[link] (c13.west) -- ++(-8,0) |- (\c.east);
\foreach \c in {c21,c22} \draw[link] (c2.west) -- ++(-8,0) |- (\c.east);
\foreach \c in {c221} \draw[link] (c22.west) -- ++(-8,0) |- (\c.east);
\foreach \c in {c31} \draw[link] (c3.west) -- ++(-8,0) |- (\c.east);
\foreach \c in {c41} \draw[link] (c4.west) -- ++(-8,0) |- (\c.east);
\foreach \c in {c51,c52} \draw[link] (c5.west) -- ++(-9,0) |- (\c.east);
\foreach \c in {c511,c512,c513,c514} \draw[link] (c51.west) -- ++(-8,0) |- (\c.east);
\foreach \c in {c5141,c5142,c5143} \draw[link] (c514.west) -- ++(-8,0) |- (\c.east);
\foreach \c in {c521} \draw[link] (c52.west) -- ++(-8,0) |- (\c.east);
\foreach \c in {c5211,c5212,c5213,c5214,c5215} \draw[link] (c521.west) -- ++(-8,0) |- (\c.east);
\foreach \c in {d1,d2,d3,d4,d5,d6,d7,d8,d9,d10,d11} \draw[link] (b1d.west) -- ++(-9,0) |- (\c.east);
\foreach \c in {d31,d32,d33} \draw[link] (d3.west) -- ++(-8,0) |- (\c.east);
\foreach \c in {d331} \draw[link] (d33.west) -- ++(-9,0) |- (\c.east);
\foreach \c in {d41} \draw[link] (d4.west) -- ++(-8,0) |- (\c.east);
\foreach \c in {d61} \draw[link] (d6.west) -- ++(-9,0) |- (\c.east);
\foreach \c in {d611} \draw[link] (d61.west) -- ++(-9,0) |- (\c.east);
\foreach \c in {d6111} \draw[link] (d611.west) -- ++(-8,0) |- (\c.east);
\foreach \c in {d81} \draw[link] (d8.west) -- ++(-8,0) |- (\c.east);
\foreach \c in {d111,d112} \draw[link] (d11.west) -- ++(-7,0) |- (\c.east);
\foreach \c in {e1,e2} \draw[link] (b3.west) -- ++(-9,0) |- (\c.east);
\foreach \c in {f1,f2,f3,f4,f6,f7,f8,f9} \draw[link] (e1.west) -- ++(-8,0) |- (\c.east);
\foreach \c in {f11,f12,f13} \draw[link] (f1.west) -- ++(-8,0) |- (\c.east);
\foreach \c in {f21,f22} \draw[link] (f2.west) -- ++(-9,0) |- (\c.east);
\foreach \c in {f41,f42,f43,f44} \draw[link] (f4.west) -- ++(-9,0) |- (\c.east);
\foreach \c in {g1,g2} \draw[link] (f44.west) -- ++(-8,0) |- (\c.east);
\foreach \c in {g11,g12,g13,g14,g15} \draw[link] (g1.west) -- ++(-8,0) |- (\c.east);
\foreach \c in {g111,g112} \draw[link] (g11.west) -- ++(-8,0) |- (\c.east);
\foreach \c in {g131} \draw[link] (g13.west) -- ++(-8,0) |- (\c.east);
\foreach \c in {g141} \draw[link] (g14.west) -- ++(-8,0) |- (\c.east);
\foreach \c in {g21,g22,g23} \draw[link] (g2.west) -- ++(-8,0) |- (\c.east);
\foreach \c in {g221} \draw[link] (g22.west) -- ++(-8,0) |- (\c.east);
\foreach \c in {g231} \draw[link] (g23.west) -- ++(-8,0) |- (\c.east);
\foreach \c in {f61,f62} \draw[link] (f6.west) -- ++(-8,0) |- (\c.east);
\foreach \c in {f621} \draw[link] (f62.west) -- ++(-8,0) |- (\c.east);
\foreach \c in {f71,f72,f73} \draw[link] (f7.west) -- ++(-8,0) |- (\c.east);
\foreach \c in {f721} \draw[link] (f72.west) -- ++(-8,0) |- (\c.east);
\foreach \c in {h1,h2,h3,h4,h5,h6,h7} \draw[link] (e2.west) -- ++(-8,0) |- (\c.east);
\foreach \c in {h11,h12,h13} \draw[link] (h1.west) -- ++(-8,0) |- (\c.east);
\foreach \c in {h111} \draw[link] (h11.west) -- ++(-8,0) |- (\c.east);
\foreach \c in {h121} \draw[link] (h12.west) -- ++(-8,0) |- (\c.east);
\foreach \c in {h131} \draw[link] (h13.west) -- ++(-8,0) |- (\c.east);
\foreach \c in {h21,h22} \draw[link] (h2.west) -- ++(-8,0) |- (\c.east);
\foreach \c in {h41} \draw[link] (h4.west) -- ++(-8,0) |- (\c.east);
\foreach \c in {i1,i2} \draw[link] (h5.west) -- ++(-8,0) |- (\c.east);
\foreach \c in {i11,i12,i13,i14} \draw[link] (i1.west) -- ++(-8,0) |- (\c.east);
\foreach \c in {i121,i122,i123} \draw[link] (i12.west) -- ++(-8,0) |- (\c.east);
\foreach \c in {i131} \draw[link] (i13.west) -- ++(-8,0) |- (\c.east);
\foreach \c in {i141,i142} \draw[link] (i14.west) -- ++(-7,0) |- (\c.east);
\foreach \c in {i21,i22,i23,i24,i25,i26} \draw[link] (i2.west) -- ++(-8,0) |- (\c.east);
\foreach \c in {i231,i232,i233} \draw[link] (i23.west) -- ++(-8,0) |- (\c.east);
\foreach \c in {i241,i242,i243} \draw[link] (i24.west) -- ++(-8,0) |- (\c.east);
\foreach \c in {i251,i252,i253} \draw[link] (i25.west) -- ++(-8,0) |- (\c.east);
\foreach \c in {h61,h62,h63} \draw[link] (h6.west) -- ++(-8,0) |- (\c.east);
\foreach \c in {h621} \draw[link] (h62.west) -- ++(-8,0) |- (\c.east);
\foreach \c in {h71,h72,h73} \draw[link] (h7.west) -- ++(-8,0) |- (\c.east);
\foreach \c in {h721} \draw[link] (h72.west) -- ++(-7,0) |- (\c.east);
\foreach \c in {k1,k2,k3,k4,k5} \draw[link] (b5.west) -- ++(-9,0) |- (\c.east);
\foreach \c in {k11} \draw[link] (k1.west) -- ++(-8,0) |- (\c.east);
\foreach \c in {k21} \draw[link] (k2.west) -- ++(-8,0) |- (\c.east);
\foreach \c in {k31} \draw[link] (k3.west) -- ++(-8,0) |- (\c.east);
\foreach \c in {k41} \draw[link] (k4.west) -- ++(-8,0) |- (\c.east);
\foreach \c in {m1,m2,m3} \draw[link] (k5.west) -- ++(-8,0) |- (\c.east);
\foreach \c in {m11,m12,m13} \draw[link] (m1.west) -- ++(-8,0) |- (\c.east);
\foreach \c in {m21,m22} \draw[link] (m2.west) -- ++(-8,0) |- (\c.east);
\foreach \c in {m31,m32,m33,m34} \draw[link] (m3.west) -- ++(-8,0) |- (\c.east);
\end{scope}
\end{tikzpicture}
\end{document}
